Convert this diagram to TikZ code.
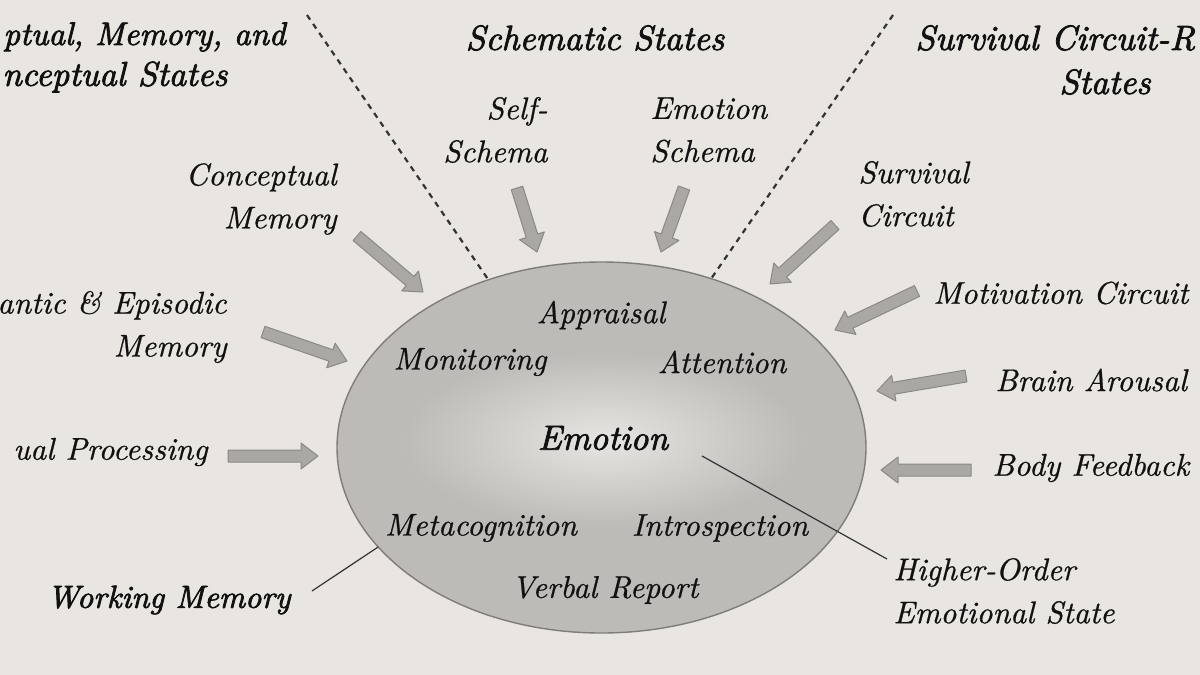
\documentclass[tikz,border=0pt]{standalone}
\usepackage{fontspec}
\usetikzlibrary{calc,shapes.geometric}
\newfontfamily\labfont{lmroman10-italic.otf}[FakeBold=0.7]
\newfontfamily\hdrfont{lmroman10-italic.otf}[FakeBold=2.2]
\definecolor{paper}{HTML}{E9E6E1}
\definecolor{ink}{HTML}{111111}
\definecolor{ellfill}{HTML}{BDBBB7}
\definecolor{ellglow}{HTML}{E6E5E2}
\definecolor{ellline}{HTML}{7E7D7A}
\definecolor{arrfill}{HTML}{A9A8A5}
\definecolor{arrline}{HTML}{8A8986}
\definecolor{lineink}{HTML}{333333}
\newcommand{\blockarr}[2]{%
  \coordinate (neck) at ($(#2)!8.5pt!(#1)$);
  \filldraw[arrstyle]
    ($(#1)!3pt!90:(#2)$) -- ($(neck)!3pt!90:(#2)$) -- ($(neck)!6.5pt!90:(#2)$) --
    (#2) -- ($(neck)!6.5pt!-90:(#2)$) -- ($(neck)!3pt!-90:(#2)$) --
    ($(#1)!3pt!-90:(#2)$) -- cycle;}
\begin{document}
\begin{tikzpicture}[x=0.5pt,y=-0.5pt,
  lab/.style={font=\labfont\fontsize{15.7}{21.5}\selectfont, inner sep=0pt, text=ink},
  hdr/.style={font=\hdrfont\fontsize{17.5}{20}\selectfont, inner sep=0pt, text=ink, align=center},
  boldlab/.style={font=\hdrfont\fontsize{16}{20}\selectfont, inner sep=0pt, text=ink},
  arrstyle/.style={fill=arrfill, draw=arrline, line width=0.5pt, line join=round},
  conn/.style={draw=lineink, line width=0.6pt},
  dashline/.style={draw=lineink, line width=1.1pt, dash pattern=on 2.8pt off 2.6pt}]
\clip (0,0) rectangle (1200,675);
\fill[paper] (0,0) rectangle (1200,675);

% central ellipse
\node[ellipse, draw=ellline, line width=0.7pt, fill=ellfill, minimum width=264.5pt, minimum height=185.5pt, inner sep=0pt, outer sep=0pt] (emo) at (601.5,447.5) {};
\shade[inner color=ellglow, outer color=ellfill] (603,440) ellipse [x radius=100pt, y radius=44pt];

% headers
\node[hdr, anchor=west, font=\hdrfont\fontsize{16.3}{20}\selectfont] (hpm1) at (3,37) {ptual, Memory, and};
\node[hdr, anchor=west, font=\hdrfont\fontsize{17.2}{20}\selectfont] (hpm2) at (2,77) {nceptual States};
\node[hdr] (hss) at (595,38) {Schematic States};
\node[hdr, anchor=west] (hsc1) at (915,38) {Survival Circuit-R};
\node[hdr] (hsc2) at (1105,82) {States};

% dashed separators
\coordinate (dl) at (307,15);
\coordinate (dr) at (893,15);
\draw[dashline] (dl) -- (emo.124);
\draw[dashline] (dr) -- (emo.57);

% outer labels
\node[lab, anchor=east, align=right] (selfs) at (548,130) {Self-\\Schema};
\node[lab, anchor=west, align=left] (emos) at (650,130) {Emotion\\Schema};
\node[lab, anchor=east, align=right] (concm) at (337,199) {Conceptual\\Memory};
\node[lab, anchor=east, align=right] (semm) at (227,327) {antic \& Episodic\\Memory};
\node[lab, anchor=east] (percp) at (208,452) {ual Processing};
\node[boldlab, anchor=west] (wm) at (47,600) {Working Memory};
\node[lab, anchor=west, align=left] (survc) at (858,194) {Survival\\Circuit};
\node[lab, anchor=west] (motc) at (933,293) {Motivation Circuit};
\node[lab, anchor=west] (brain) at (995,380) {Brain Arousal};
\node[lab, anchor=west] (body) at (992,468) {Body Feedback};
\node[lab, anchor=west, align=left] (hoes) at (893,591) {Higher-Order\\Emotional State};

% inner labels
\node[lab] (appr) at (601,315) {Appraisal};
\node[lab] (moni) at (470,362) {Monitoring};
\node[lab] (atte) at (722,362) {Attention};
\node[font=\hdrfont\fontsize{17.5}{20}\selectfont, inner sep=0pt, text=ink] (emot) at (603,438) {Emotion};
\node[lab] (meta) at (481,528) {Metacognition};
\node[lab] (intro) at (720,528) {Introspection};
\node[lab] (verb) at (605,590) {Verbal Report};

% block arrows
\coordinate (cmA) at (357,236); \coordinate (cmB) at (423,292);
\coordinate (ssA) at (517,188); \coordinate (ssB) at (537,252);
\coordinate (esA) at (684,188); \coordinate (esB) at (661,252);
\coordinate (scA) at (835,225); \coordinate (scB) at (770,284);
\coordinate (smA) at (263,332); \coordinate (smB) at (347,361);
\coordinate (mcA) at (917,291); \coordinate (mcB) at (835,330);
\coordinate (ppA) at (228,456); \coordinate (ppB) at (318,456);
\coordinate (baA) at (966,376); \coordinate (baB) at (877,391);
\coordinate (bfA) at (971,470); \coordinate (bfB) at (881,470);
\blockarr{cmA}{cmB}
\blockarr{ssA}{ssB}
\blockarr{esA}{esB}
\blockarr{scA}{scB}
\blockarr{smA}{smB}
\blockarr{mcA}{mcB}
\blockarr{ppA}{ppB}
\blockarr{baA}{baB}
\blockarr{bfA}{bfB}

% thin connectors
\coordinate (wmEnd) at (312,591);
\draw[conn] (wmEnd) -- (emo.204);
\coordinate (hoStart) at (702,456);
\coordinate (hoEnd) at (887,559);
\draw[conn] (hoStart) -- (hoEnd);
\end{tikzpicture}
\end{document}
